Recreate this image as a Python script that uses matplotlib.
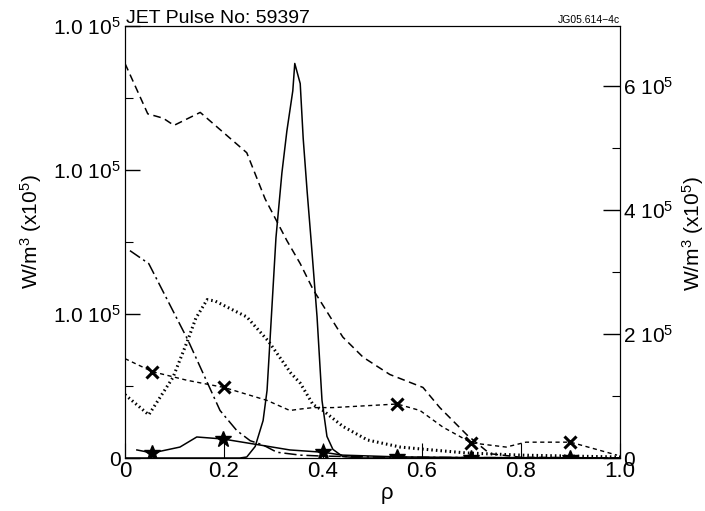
import numpy as np
import matplotlib.pyplot as plt

plt.rcParams['font.family'] = ['Liberation Sans', 'DejaVu Sans']
plt.rcParams['mathtext.fontset'] = 'custom'
plt.rcParams['mathtext.rm'] = 'Liberation Sans'
plt.rcParams['mathtext.it'] = 'Liberation Sans:italic'

# perfis (unidades do eixo esquerdo, x10^5 W/m^3)
rho_tracejado = [0, 0.046, 0.077, 0.099, 0.152, 0.246, 0.283, 0.327, 0.354, 0.380,
                 0.440, 0.481, 0.535, 0.602, 0.636, 0.691, 0.737, 0.80, 1.0]
p_tracejado = [2.74, 2.39, 2.36, 2.31, 2.40, 2.12, 1.80, 1.51, 1.35, 1.17,
               0.84, 0.70, 0.58, 0.49, 0.35, 0.16, 0.03, 0.005, 0.0]

rho_pico = [0.0, 0.232, 0.246, 0.263, 0.279, 0.287, 0.293, 0.305, 0.317, 0.327, 0.339,
            0.343, 0.354, 0.360, 0.368, 0.376, 0.388, 0.398, 0.408, 0.420, 0.440, 0.48, 1.0]
p_pico = [0.0, 0.0, 0.007, 0.08, 0.26, 0.47, 0.82, 1.53, 1.98, 2.27, 2.55,
          2.74, 2.60, 2.22, 1.85, 1.51, 0.98, 0.40, 0.15, 0.06, 0.01, 0.0, 0.0]

rho_ponto_traco = [0.01, 0.048, 0.127, 0.192, 0.226, 0.253, 0.279, 0.307, 0.354,
                   0.394, 0.5, 0.7, 1.0]
p_ponto_traco = [1.44, 1.35, 0.82, 0.33, 0.19, 0.12, 0.09, 0.04, 0.02,
                 0.014, 0.007, 0.003, 0.0]

rho_pontilhado = [0, 0.048, 0.097, 0.127, 0.143, 0.166, 0.182, 0.246, 0.29, 0.335,
                  0.354, 0.38, 0.40, 0.44, 0.49, 0.556, 0.62, 0.69, 0.80, 1.0]
p_pontilhado = [0.44, 0.30, 0.56, 0.82, 0.97, 1.10, 1.09, 0.98, 0.81, 0.59,
                0.52, 0.37, 0.33, 0.22, 0.125, 0.076, 0.056, 0.035, 0.02, 0.007]

rho_cruz = [0, 0.055, 0.125, 0.20, 0.287, 0.333, 0.354, 0.38, 0.42, 0.55,
            0.596, 0.642, 0.70, 0.77, 0.81, 0.90, 0.994]
p_cruz = [0.69, 0.60, 0.54, 0.49, 0.40, 0.33, 0.34, 0.35, 0.35, 0.375,
          0.33, 0.215, 0.105, 0.076, 0.11, 0.11, 0.02]
idx_cruz = [1, 3, 9, 12, 15]

rho_estrela = [0.024, 0.055, 0.111, 0.145, 0.198, 0.273, 0.333, 0.4, 0.44,
               0.55, 0.7, 0.9, 0.95]
p_estrela = [0.056, 0.035, 0.076, 0.146, 0.132, 0.09, 0.056, 0.04, 0.02,
             0.008, 0.003, 0.002, 0.001]
idx_estrela = [1, 4, 7, 9, 10, 11]

ticks_esq = [0, 1, 2, 3]
rotulos_esq = ['0', '1.0 10$^5$', '1.0 10$^5$', '1.0 10$^5$']
ticks_dir = [0, 2, 4, 6]
rotulos_dir = ['0', '2 10$^5$', '4 10$^5$', '6 10$^5$']
ticks_x = [0, 0.2, 0.4, 0.6, 0.8, 1.0]
rotulos_x = ['0', '0.2', '0.4', '0.6', '0.8', '1.0']

fig = plt.figure(figsize=(7.05, 5.11), dpi=100)
ax = fig.add_axes([0.1773, 0.1037, 0.7021, 0.8454])

ax.plot(rho_tracejado, p_tracejado, color='k', lw=1.1, dashes=(5, 3))
ax.plot(rho_pico, p_pico, color='k', lw=1.1)
ax.plot(rho_ponto_traco, p_ponto_traco, color='k', lw=1.1, dashes=(8, 2.5, 1.5, 2.5))
ax.plot(rho_pontilhado, p_pontilhado, color='k', lw=2.2, linestyle=(0, (0.5, 1.0)))
ax.plot(rho_cruz, p_cruz, color='k', lw=1.0, dashes=(3, 2.5),
        marker='x', markersize=9, markeredgewidth=2.2, markevery=idx_cruz)
ax.plot(rho_estrela, p_estrela, color='k', lw=1.1,
        marker='*', markersize=12, markevery=idx_estrela)

ax.set_xlim(0, 1.0)
ax.set_ylim(0, 3)
ax.set_xticks(ticks_x)
ax.set_xticklabels(rotulos_x, fontsize=16)
ax.set_yticks(ticks_esq)
ax.set_yticklabels(rotulos_esq, fontsize=15)
ax.set_yticks([0.5, 1.5, 2.5], minor=True)
ax.tick_params(axis='y', direction='in', length=11, width=1, pad=3, right=False)
ax.tick_params(axis='y', which='minor', direction='in', length=6, width=0.8)
ax.tick_params(axis='x', direction='in', length=11, width=0.8, pad=2, top=False)

ax2 = ax.twinx()
ax2.set_ylim(0, 432 / 62)
ax2.set_yticks(ticks_dir)
ax2.set_yticklabels(rotulos_dir, fontsize=15)
ax2.set_yticks([1, 3, 5], minor=True)
ax2.tick_params(axis='y', direction='in', length=12, width=1, pad=2)
ax2.tick_params(axis='y', which='minor', direction='in', length=6, width=0.8)

ax.set_xlabel('ρ', fontsize=16)
ax.xaxis.set_label_coords(0.53, -0.058)
ax.set_ylabel('W/m$^3$ (x10$^5$)', fontsize=15)
ax.yaxis.set_label_coords(-0.163, 0.525)
ax2.set_ylabel('W/m$^3$ (x10$^5$)', fontsize=15, rotation=90)
ax2.yaxis.set_label_coords(1.122, 0.52)

ax.text(0.002, 0.998, 'JET Pulse No: 59397', transform=ax.transAxes,
        fontsize=14, ha='left', va='bottom')
ax.text(1.0, 1.003, 'JG05.614\u22124c', transform=ax.transAxes,
        fontsize=7.5, ha='right', va='bottom')

fig.savefig('out.png', dpi=100)
